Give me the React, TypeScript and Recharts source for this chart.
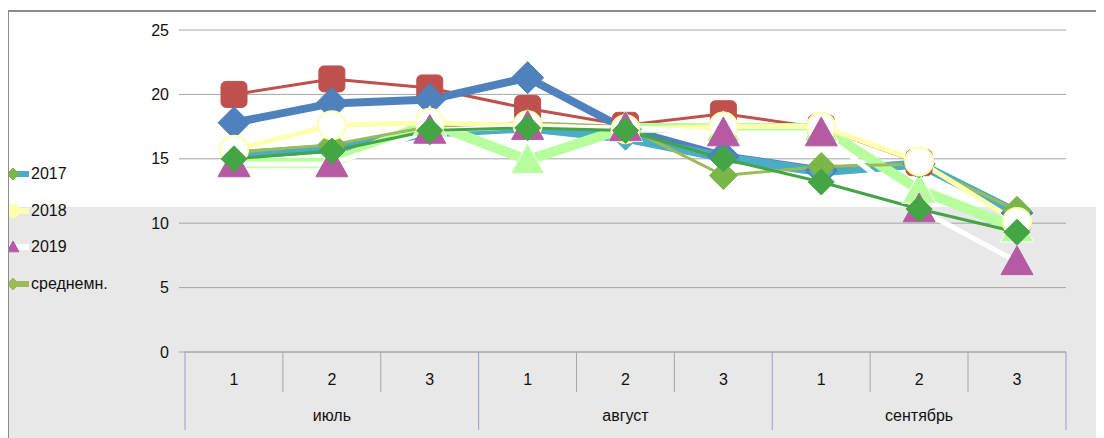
import { LineChart, Line, XAxis, YAxis, CartesianGrid } from 'recharts'

// декады по месяцам
const decades = ['1', '2', '3', '1', '2', '3', '1', '2', '3']
const months = ['июль', 'август', 'сентябрь']
const yTicks = [0, 5, 10, 15, 20, 25]

// ряды по декадам (средняя температура)
const s2013 = [15.0, 15.6, 17.2, 17.4, 17.2, 15.0, 13.2, 11.1, 9.3]
const s2014 = [17.8, 19.3, 19.6, 21.3, 17.3, 15.2, 14.1, 14.6, 10.8]
const s2015 = [20.0, 21.2, 20.5, 18.9, 17.6, 18.5, 17.4, 14.7, 10.2]
const s2016 = [14.7, 14.7, 17.8, 14.9, 17.4, 17.4, 17.4, 12.6, 9.6]
const s2017 = [15.3, 15.8, 17.0, 17.4, 16.6, 15.1, 14.0, 14.6, 10.8]
const s2018 = [15.7, 17.6, 17.8, 17.6, 17.3, 17.5, 17.5, 14.8, 10.1]
const s2019 = [14.6, 14.6, 17.2, 17.5, 17.4, 17.0, 17.0, 11.1, 7.0]
const avg = [15.5, 16.1, 17.5, 17.8, 17.5, 13.7, 14.4, 14.6, 11.0]

const data = decades.map((d, i) => ({
  k: i,
  dec: d,
  s2013: s2013[i],
  s2014: s2014[i],
  s2015: s2015[i],
  s2016: s2016[i],
  s2017: s2017[i],
  s2018: s2018[i],
  s2019: s2019[i],
  avg: avg[i],
}))

const FONT = 'Liberation Sans, Arial, sans-serif'
const HALF = 49 // половина ширины декады

type Shape = 'square' | 'diamond' | 'triangle' | 'circle'

function marker(shape: Shape, r: number, fill: string, stroke: string) {
  return (p: any) => {
    const { cx, cy, index } = p
    if (cx == null || cy == null) return <g key={index} />
    if (shape === 'square')
      return <rect key={index} x={cx - r} y={cy - r} width={2 * r} height={2 * r} rx={5} fill={fill} stroke={stroke} />
    if (shape === 'circle')
      return <circle key={index} cx={cx} cy={cy} r={r} fill={fill} stroke={stroke} strokeWidth={2} />
    const pts =
      shape === 'diamond'
        ? `${cx},${cy - r} ${cx + r},${cy} ${cx},${cy + r} ${cx - r},${cy}`
        : `${cx},${cy - r} ${cx + r},${cy + r * 0.8} ${cx - r},${cy + r * 0.8}`
    return <polygon key={index} points={pts} fill={fill} stroke={stroke} strokeWidth={1} />
  }
}

function DecadeTick(props: any) {
  const { x, y, payload } = props
  const i = payload.index
  const left = x - HALF
  const startMonth = i % 3 === 0
  return (
    <g>
      <line x1={left} y1={y - 8} x2={left} y2={y + 32} stroke={startMonth ? '#9a9ad0' : '#a6a6a6'} />
      {startMonth && <line x1={left} y1={y + 32} x2={left} y2={y + 70} stroke="#9a9ad0" />}
      {i === decades.length - 1 && (
        <line x1={x + HALF} y1={y - 8} x2={x + HALF} y2={y + 70} stroke="#9a9ad0" />
      )}
      <text x={x} y={y + 25} textAnchor="middle" fontSize={16} fontFamily={FONT} fill="#111">
        {decades[i]}
      </text>
      {i % 3 === 1 && (
        <text x={x} y={y + 61} textAnchor="middle" fontSize={16} fontFamily={FONT} fill="#111">
          {months[Math.floor(i / 3)]}
        </text>
      )}
    </g>
  )
}

const legendItems = [
  { name: '2017', color: '#4BACC6', mark: '#7AB648', shape: 'diamond' as Shape },
  { name: '2018', color: '#FFFFB0', mark: '#FFFFB0', shape: 'circle' as Shape },
  { name: '2019', color: '#FFFFFF', mark: '#B65AA3', shape: 'triangle' as Shape },
  { name: 'среднемн.', color: '#9BBB59', mark: '#9BBB59', shape: 'diamond' as Shape },
]

function App() {
  return (
    <div
      style={{
        position: 'relative',
        width: 1096,
        height: 428,
        marginTop: 2,
        borderTop: '2px solid #8c8c8c',
        borderLeft: '1px solid #8c8c8c',
        background: 'linear-gradient(#ffffff 0px, #ffffff 195px, #e8e8e8 195px)',
      }}
    >
      <LineChart width={1095} height={428} data={data} margin={{ top: 18, right: 38, bottom: 0, left: 0 }}>
        <CartesianGrid vertical={false} stroke="#a6a6a6" />
        <XAxis
          dataKey="k"
          type="category"
          height={88}
          padding={{ left: HALF, right: HALF }}
          tickLine={false}
          axisLine={{ stroke: '#a6a6a6' }}
          tick={<DecadeTick />}
          interval={0}
        />
        <YAxis
          domain={[0, 25]}
          ticks={yTicks}
          width={176}
          tickSize={6}
          tickMargin={10}
          axisLine={false}
          tickLine={{ stroke: '#a6a6a6' }}
          tick={{ fontSize: 16, fontFamily: FONT, fill: '#111' }}
        />
        <Line dataKey="s2015" name="2015" stroke="#C0504D" strokeWidth={3} dot={marker('square', 13, '#C0504D', '#C0504D')} legendType="none" isAnimationActive={false} />
        <Line dataKey="s2014" name="2014" stroke="#4F81BD" strokeWidth={8} dot={marker('diamond', 16, '#4F81BD', '#4F81BD')} legendType="none" isAnimationActive={false} />
        <Line dataKey="s2017" name="2017" stroke="#4BACC6" strokeWidth={9} dot={marker('diamond', 12, '#4BACC6', '#4BACC6')} isAnimationActive={false} />
        <Line dataKey="s2016" name="2016" stroke="#B6FF9C" strokeWidth={10} dot={marker('triangle', 17, '#B6FF9C', '#ffffff')} legendType="none" isAnimationActive={false} />
        <Line dataKey="avg" name="среднемн." stroke="#9BBB59" strokeWidth={3} dot={marker('diamond', 14, '#7AB648', '#7AB648')} isAnimationActive={false} />
        <Line dataKey="s2018" name="2018" stroke="#FFFFB0" strokeWidth={5} dot={marker('circle', 14, '#ffffff', '#FFFFB0')} isAnimationActive={false} />
        <Line dataKey="s2019" name="2019" stroke="#FFFFFF" strokeWidth={5} dot={marker('triangle', 16, '#B65AA3', '#B65AA3')} isAnimationActive={false} />
        <Line dataKey="s2013" name="2013" stroke="#43A543" strokeWidth={3} dot={marker('diamond', 13, '#43A543', '#43A543')} legendType="none" isAnimationActive={false} />
      </LineChart>
      <div style={{ position: 'absolute', left: 0, top: 144, fontFamily: FONT, fontSize: 16, color: '#111' }}>
        {legendItems.map((it) => (
          <div key={it.name} style={{ display: 'flex', alignItems: 'center', height: 36.5 }}>
            <svg width={22} height={20}>
              <line x1={0} y1={10} x2={20} y2={10} stroke={it.color} strokeWidth={6} />
              {marker(it.shape, 6, it.mark, it.mark)({ cx: 4, cy: 10, index: 0 })}
            </svg>
            <span>{it.name}</span>
          </div>
        ))}
      </div>
    </div>
  )
}

export default App
